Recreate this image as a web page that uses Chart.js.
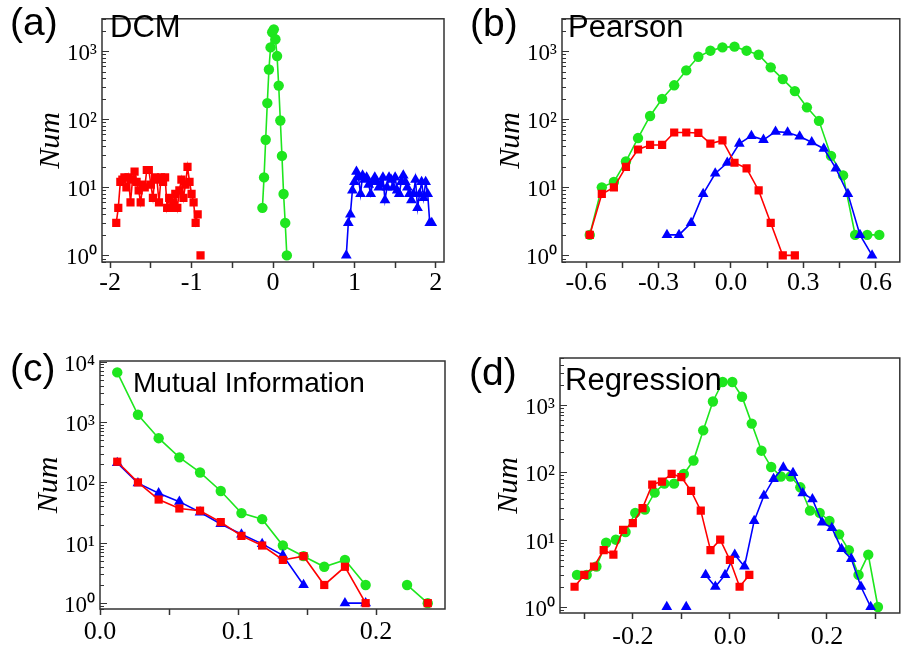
<!DOCTYPE html>
<html>
<head>
<meta charset="utf-8">
<script src="https://cdn.jsdelivr.net/npm/chart.js@4.4.1/dist/chart.umd.min.js"></script>
<style>
  body { margin: 0; background: #fff; }
  #wrap { position: relative; width: 906px; height: 649px; overflow: hidden; background: #fff; }
  canvas { position: absolute; }
  .tag { position: absolute; font-family: 'Liberation Sans', Arial, sans-serif; line-height: 1; color: #000; white-space: nowrap; }
</style>
</head>
<body>
<div id="wrap">
  <canvas id="chartA" width="453" height="320" style="left:0;top:0"></canvas>
  <canvas id="chartB" width="453" height="320" style="left:453px;top:0"></canvas>
  <canvas id="chartC" width="453" height="329" style="left:0;top:320px"></canvas>
  <canvas id="chartD" width="453" height="329" style="left:453px;top:320px"></canvas>

  <div class="tag" style="left:10px;top:2px;font-size:39px">(a)</div>
  <div class="tag" style="left:470px;top:3px;font-size:39px">(b)</div>
  <div class="tag" style="left:10px;top:348px;font-size:39px">(c)</div>
  <div class="tag" style="left:469px;top:352px;font-size:39px">(d)</div>

  <div class="tag" style="left:110px;top:11px;font-size:31px">DCM</div>
  <div class="tag" style="left:568px;top:11px;font-size:31px">Pearson</div>
  <div class="tag" style="left:133px;top:369px;font-size:28px">Mutual Information</div>
  <div class="tag" style="left:565px;top:364px;font-size:31px">Regression</div>
</div>
<script>
// ---- (a) DCM ----
var aRedX = [-1.925, -1.9, -1.875, -1.85, -1.825, -1.8, -1.775, -1.75, -1.725, -1.7,
             -1.675, -1.65, -1.625, -1.6, -1.575, -1.55, -1.525, -1.5, -1.475, -1.45,
             -1.425, -1.4, -1.375, -1.35, -1.325, -1.3, -1.275, -1.25, -1.225, -1.2,
             -1.175, -1.15, -1.125, -1.1, -1.075, -1.05, -1.025, -1.0, -0.975, -0.95,
             -0.925, -0.9, -0.89];
var aRedY = [3, 5, 12, 13, 14, 10, 14, 6, 13, 17,
             12, 9, 6, 11, 10, 18, 18, 11, 7, 14,
             13, 6, 14, 12, 14, 5, 7, 5, 6, 8,
             5, 9, 13, 7, 11, 20, 12, 8, 6, 3,
             4, null, 1];
var aGreenX = [-0.13, -0.11, -0.09, -0.07, -0.05, -0.03, -0.01, 0.01,
               0.03, 0.05, 0.07, 0.09, 0.11, 0.13, 0.15, 0.17];
var aGreenY = [5, 14, 50, 173, 540, 1140, 1900, 2100,
               1500, 850, 313, 96, 29, 8, 3, 1];
var aBlueX = [0.9, 0.925, 0.95, 0.975, 1.0, 1.025, 1.05, 1.075, 1.1, 1.125,
              1.15, 1.175, 1.2, 1.225, 1.25, 1.275, 1.3, 1.325, 1.35, 1.375,
              1.4, 1.425, 1.45, 1.475, 1.5, 1.525, 1.55, 1.575, 1.6, 1.625,
              1.65, 1.675, 1.7, 1.725, 1.75, 1.775, 1.8, 1.825, 1.85, 1.875,
              1.9, 1.925, 1.95];
var aBlueY = [1, 3, 4, 9, 12, 17, 14, 8, 15, 13,
              14, 11, 8, 12, 14, 12, 10, 11, 14, 6.5,
              10, 14, 13, 10, 14, 9, 8, 12, 15, 12,
              10, 8, 6.5, 8, 13, 5, 8, 12, 7, 12,
              8, 3, 3];
var aXTicks = [-2, -1.5, -1, -0.5, 0, 0.5, 1, 1.5, 2];
var aXLabels = ['-2', '', '-1', '', '0', '', '1', '', '2'];

// ---- (b) Pearson ----
var bGreenX = [-0.585, -0.535, -0.485, -0.435, -0.385, -0.335, -0.285, -0.235, -0.185, -0.135,
               -0.085, -0.035, 0.015, 0.065, 0.115, 0.165, 0.215, 0.265, 0.315, 0.365,
               0.415, 0.465, 0.515, 0.565, 0.615];
var bGreenY = [2, 10, 12, 24, 53, 112, 200, 316, 523, 830,
               1020, 1140, 1170, 1020, 890, 580, 390, 260, 150, 95,
               29, 15, 2, 2, 2];
var bRedX = [-0.585, -0.535, -0.485, -0.435, -0.385, -0.335, -0.285, -0.235, -0.185,
             -0.135, -0.085, -0.035, 0.015, 0.065, 0.115, 0.165, 0.215, 0.265];
var bRedY = [2, 8, 10, 20, 36, 42, 42, 64, 64,
             63, 44, 49, 23, 19, 9, 3, 1, 1];
var bBlueX = [-0.265, -0.215, -0.165, -0.115, -0.065, -0.015, 0.035, 0.085, 0.135,
              0.185, 0.235, 0.285, 0.335, 0.385, 0.435, 0.485, 0.535, 0.585];
var bBlueY = [2, 2, 3, 8, 16, 23, 44, 57, 50,
              66, 64, 56, 46, 37, 19, 8, 2, 1];
var bXTicks = [-0.6, -0.45, -0.3, -0.15, 0, 0.15, 0.3, 0.45, 0.6];
var bXLabels = ['-0.6', '', '-0.3', '', '0.0', '', '0.3', '', '0.6'];

// ---- (c) Mutual Information ----
var cX = [0.0125, 0.0275, 0.0425, 0.0575, 0.0725, 0.0875, 0.1025, 0.1175,
          0.1325, 0.1475, 0.1625, 0.1775, 0.1925, 0.2075, 0.2225, 0.2375];
var cGreenY = [6640, 1320, 540, 260, 146, 72, 31, 24.6, 9, 6, 4, 5.2, 2, null, 2, 1];
var cRedY = [220, 100, 52, 37, 34, 22, 13, 9, 5.2, 6, 2, 4, 1, null, null, 1];
var cBlueY = [210, 97, 66, 48, 32, 20.5, 13.8, 9.6, 6.2, 2, null, 1, 1, null, null, null];
var cXTicks = [0, 0.05, 0.1, 0.15, 0.2];
var cXLabels = ['0.0', '', '0.1', '', '0.2'];

// ---- (d) Regression ----
var dGreenX = [-0.315, -0.295, -0.275, -0.255, -0.235, -0.215, -0.195, -0.175, -0.155, -0.135,
               -0.115, -0.095, -0.075, -0.055, -0.035, -0.015, 0.005, 0.025, 0.045, 0.065,
               0.085, 0.105, 0.125, 0.145, 0.165, 0.185, 0.205, 0.225, 0.245, 0.265,
               0.285, 0.305];
var dGreenY = [3, 3, 4, 9, 10, 13, 25, 28, 50, 68,
               68, 95, 150, 420, 1130, 2200, 2200, 1330, 530, 210,
               120, 87, 87, 60, 27, 25, 19, 12, 7, 3,
               6, 1];
var dRedX = [-0.32, -0.3, -0.28, -0.26, -0.24, -0.22, -0.2, -0.18, -0.16, -0.14,
             -0.12, -0.1, -0.08, -0.06, -0.04, -0.02, 0.0, 0.02, 0.04];
var dRedY = [2, 3, 4, 7, 6, 14, 17.6, 29.5, 66, 73,
             95, 85, 53, 27, 7, 10, 5, 2, 3];
var dBlueX = [-0.13, -0.11, -0.09, -0.07, -0.05, -0.03, -0.01, 0.01, 0.03, 0.05, 0.07,
              0.09, 0.11, 0.13, 0.15, 0.17, 0.19, 0.21, 0.23, 0.25, 0.27, 0.29];
var dBlueY = [1, null, 1, null, 3, 2, 3, 6, 4, 19, 45,
              80, 118, 98, 49, 40, 18, 15, 7.3, 5.2, 2, 1];
var dXTicks = [-0.3, -0.2, -0.1, 0, 0.1, 0.2, 0.3];
var dXLabels = ['', '-0.2', '', '0.0', '', '0.2', ''];

var yDecades3 = [1, 10, 100, 1000];
var yLabels3 = ['10\u2070', '10\u00b9', '10\u00b2', '10\u00b3'];
var yDecades4 = [1, 10, 100, 1000, 10000];
var yLabels4 = ['10\u2070', '10\u00b9', '10\u00b2', '10\u00b3', '10\u2074'];

var SERIF = "'Liberation Serif', 'Times New Roman', serif";
var colors = {
  red: '#ff0000',
  green: '#1ee61e',
  blue: '#0000ff'
};

function pts(xs, ys) {
  return xs.map(function (x, i) { return { x: x, y: ys[i] }; });
}

function series(xs, ys, color, style, r) {
  return {
    data: pts(xs, ys),
    borderColor: color,
    backgroundColor: color,
    borderWidth: 1.6,
    pointStyle: style,
    pointRadius: r,
    pointHoverRadius: r,
    pointBorderWidth: 0,
    spanGaps: false,
    tension: 0
  };
}

// box around the plot + inward log ticks on the y axis
var frame = {
  id: 'frame',
  afterDraw: function (chart) {
    var ctx = chart.ctx, a = chart.chartArea, y = chart.scales.y;
    ctx.save();
    ctx.strokeStyle = '#333';
    ctx.lineWidth = 1;
    var lo = Math.floor(Math.log10(y.min)), hi = Math.ceil(Math.log10(y.max));
    for (var e = lo; e <= hi; e++) {
      for (var m = 1; m < 10; m++) {
        var v = m * Math.pow(10, e);
        if (v < y.min || v > y.max) continue;
        var py = Math.round(y.getPixelForValue(v)) + 0.5;
        ctx.beginPath();
        ctx.moveTo(a.left, py);
        ctx.lineTo(a.left + (m === 1 ? 7 : 4), py);
        ctx.stroke();
      }
    }
    ctx.lineWidth = 1.5;
    ctx.strokeRect(a.left, a.top, a.right - a.left, a.bottom - a.top);
    ctx.restore();
  }
};

function makeChart(id, sets, p) {
  return new Chart(document.getElementById(id).getContext('2d'), {
    type: 'line',
    data: { datasets: sets },
    plugins: [frame],
    options: {
      responsive: false,
      animation: false,
      events: [],
      layout: { padding: { top: p.top, right: p.right, left: 0, bottom: 0 } },
      plugins: { legend: { display: false }, tooltip: { enabled: false } },
      scales: {
        x: {
          type: 'linear',
          min: p.xMin,
          max: p.xMax,
          afterBuildTicks: function (s) { s.ticks = p.xTicks.map(function (v) { return { value: v }; }); },
          afterFit: function (s) { s.height = p.xH; },
          grid: { display: true, drawOnChartArea: false, drawTicks: true, tickLength: 6, tickWidth: 1.5, color: '#333' },
          border: { display: false },
          ticks: {
            autoSkip: false,
            maxRotation: 0,
            padding: p.xPad,
            color: '#000',
            font: { family: SERIF, size: 26 },
            callback: function (v, i) { return p.xLabels[i]; }
          }
        },
        y: {
          type: 'logarithmic',
          min: p.yMin,
          max: p.yMax,
          afterBuildTicks: function (s) { s.ticks = p.yTicks.map(function (v) { return { value: v }; }); },
          afterFit: function (s) { s.width = p.yW; },
          grid: { display: false, drawTicks: false },
          border: { display: false },
          ticks: {
            padding: 5,
            labelOffset: 3,
            color: '#000',
            font: { family: SERIF, size: 23 },
            callback: function (v, i) { return p.yLabels[i]; }
          },
          title: {
            display: true,
            text: 'Num',
            color: '#000',
            font: { family: SERIF, size: 30, style: 'italic' },
            padding: { top: p.titlePad, bottom: 0 }
          }
        }
      }
    }
  });
}

var chart1 = makeChart('chartA', [
  series(aRedX, aRedY, colors.red, 'rect', 5.8),
  series(aBlueX, aBlueY, colors.blue, 'triangle', 6.2),
  series(aGreenX, aGreenY, colors.green, 'circle', 5.2)
], { top: 5, right: 9, yW: 102, xH: 58, xMin: -2.1, xMax: 2.1, xTicks: aXTicks, xLabels: aXLabels,
     xPad: 0, yMin: 0.8, yMax: 3000, yTicks: yDecades3, yLabels: yLabels3, titlePad: 33 });

var chart2 = makeChart('chartB', [
  series(bRedX, bRedY, colors.red, 'rect', 5.8),
  series(bBlueX, bBlueY, colors.blue, 'triangle', 6.2),
  series(bGreenX, bGreenY, colors.green, 'circle', 5.2)
], { top: 5, right: 1, yW: 109, xH: 58, xMin: -0.7, xMax: 0.7, xTicks: bXTicks, xLabels: bXLabels,
     xPad: 0, yMin: 0.8, yMax: 3000, yTicks: yDecades3, yLabels: yLabels3, titlePad: 40 });

var chart3 = makeChart('chartC', [
  series(cX, cRedY, colors.red, 'rect', 5.8),
  series(cX, cBlueY, colors.blue, 'triangle', 6.2),
  series(cX, cGreenY, colors.green, 'circle', 5.2)
], { top: 41, right: 8, yW: 100, xH: 40, xMin: 0, xMax: 0.25, xTicks: cXTicks, xLabels: cXLabels,
     xPad: 2, yMin: 0.8, yMax: 10250, yTicks: yDecades4, yLabels: yLabels4, titlePad: 31 });

var chart4 = makeChart('chartD', [
  series(dRedX, dRedY, colors.red, 'rect', 5.8),
  series(dBlueX, dBlueY, colors.blue, 'triangle', 6.2),
  series(dGreenX, dGreenY, colors.green, 'circle', 5.2)
], { top: 38, right: 1, yW: 107, xH: 36, xMin: -0.35, xMax: 0.35, xTicks: dXTicks, xLabels: dXLabels,
     xPad: 3, yMin: 0.815, yMax: 5000, yTicks: yDecades3, yLabels: yLabels3, titlePad: 38 });
</script>
</body>
</html>
